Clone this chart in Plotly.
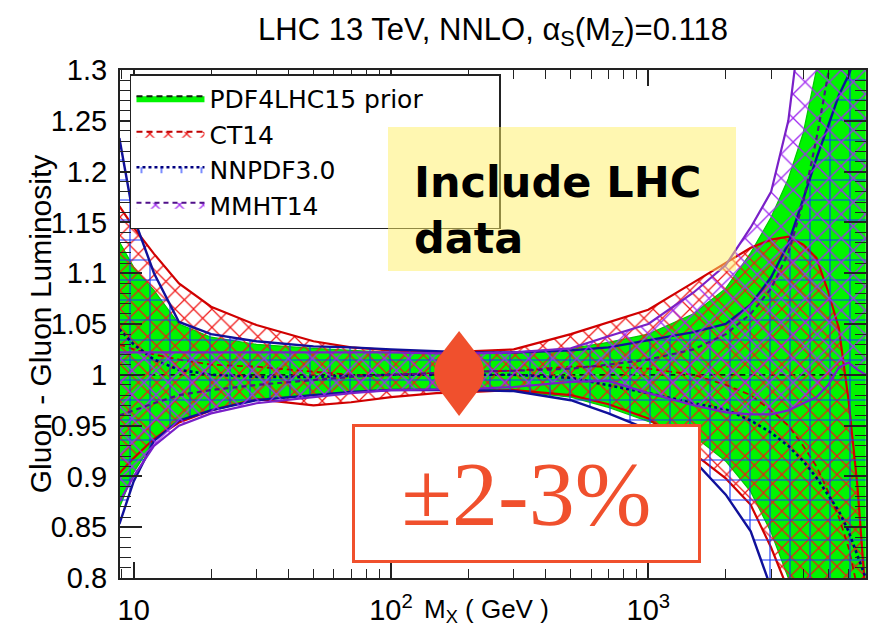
import plotly.graph_objects as go

# ---------------- data ----------------
mass_gev = [8.8, 10, 12, 15, 20, 30, 50, 70, 100, 150, 200, 300, 500, 700,
            1000, 1500, 2000, 2500, 3000, 3500, 4000, 4500, 5000, 5500, 6000, 6500, 7000]

pdf4lhc_up = [1.131, 1.106, 1.083, 1.050, 1.037, 1.030, 1.026, 1.024, 1.022, 1.021, 1.021, 1.022, 1.026, 1.032,
              1.040, 1.060, 1.085, 1.120, 1.155, 1.193, 1.238, 1.300, 1.360, 1.420, 1.480, 1.540, 1.600]
pdf4lhc_cv = [1.000, 1.000, 1.000, 1.000, 1.000, 1.000, 1.000, 1.000, 1.000, 1.000, 1.000, 1.000, 1.000, 1.000,
              1.000, 1.000, 1.000, 1.000, 1.000, 1.000, 1.000, 1.000, 1.000, 1.000, 1.000, 1.000, 1.000]
pdf4lhc_lo = [0.869, 0.904, 0.935, 0.955, 0.966, 0.976, 0.981, 0.983, 0.985, 0.985, 0.985, 0.984, 0.978, 0.968,
              0.954, 0.940, 0.915, 0.885, 0.845, 0.800, 0.750, 0.700, 0.650, 0.600, 0.550, 0.500, 0.450]

ct14_up = [1.166, 1.145, 1.119, 1.090, 1.067, 1.049, 1.033, 1.027, 1.024, 1.022, 1.023, 1.025, 1.040, 1.052,
           1.064, 1.091, 1.110, 1.125, 1.133, 1.136, 1.128, 1.115, 1.082, 1.046, 0.975, 0.890, 0.780]
ct14_cv = [1.030, 1.025, 1.020, 1.015, 1.010, 1.008, 1.003, 1.000, 1.000, 1.002, 1.003, 1.004, 1.008, 1.008,
           1.006, 1.000, 0.990, 0.980, 0.965, 0.950, 0.930, 0.910, 0.885, 0.860, 0.830, 0.790, 0.740]
ct14_lo = [0.903, 0.918, 0.937, 0.953, 0.965, 0.976, 0.970, 0.973, 0.978, 0.982, 0.983, 0.985, 0.980, 0.971,
           0.957, 0.922, 0.898, 0.872, 0.830, 0.788, 0.740, 0.690, 0.640, 0.600, 0.550, 0.500, 0.450]

nnpdf_up = [1.233, 1.155, 1.100, 1.052, 1.040, 1.033, 1.028, 1.027, 1.025, 1.023, 1.022, 1.022, 1.024, 1.027,
            1.034, 1.042, 1.050, 1.069, 1.096, 1.129, 1.173, 1.213, 1.245, 1.275, 1.295, 1.320, 1.340]
nnpdf_cv = [1.045, 1.030, 1.015, 1.005, 1.000, 0.998, 0.998, 0.999, 1.000, 1.000, 1.000, 1.000, 0.997, 0.990,
            0.982, 0.972, 0.966, 0.955, 0.943, 0.930, 0.915, 0.899, 0.882, 0.866, 0.846, 0.822, 0.800]
nnpdf_lo = [0.853, 0.895, 0.935, 0.955, 0.965, 0.975, 0.980, 0.983, 0.985, 0.985, 0.985, 0.984, 0.975, 0.962,
            0.946, 0.916, 0.882, 0.846, 0.790, 0.730, 0.670, 0.610, 0.550, 0.500, 0.450, 0.400, 0.350]

mmht_up = [1.022, 1.022, 1.022, 1.022, 1.022, 1.022, 1.022, 1.022, 1.022, 1.021, 1.021, 1.022, 1.026, 1.038,
           1.050, 1.081, 1.108, 1.145, 1.180, 1.250, 1.360, 1.450, 1.550, 1.650, 1.750, 1.850, 1.950]
mmht_cv = [0.960, 0.965, 0.972, 0.980, 0.985, 0.990, 0.995, 0.998, 1.000, 1.002, 1.003, 1.004, 1.006, 1.010,
           1.015, 1.025, 1.040, 1.060, 1.085, 1.120, 1.170, 1.232, 1.295, 1.350, 1.400, 1.450, 1.500]
mmht_lo = [0.875, 0.900, 0.930, 0.950, 0.962, 0.972, 0.978, 0.982, 0.985, 0.986, 0.986, 0.988, 0.993, 0.994,
           0.982, 0.970, 0.963, 0.961, 0.961, 0.965, 0.972, 0.978, 0.990, 1.007, 1.012, 1.005, 1.000]

band_names = ["PDF4LHC15 prior", "CT14", "NNPDF3.0", "MMHT14"]

x_tick_vals = [10, 100, 1000]
x_tick_text = ["10", "10<sup>2</sup>", "10<sup>3</sup>"]
x_minor_vals = [9, 20, 30, 40, 50, 60, 70, 80, 90, 200, 300, 400, 500, 600, 700, 800, 900,
                2000, 3000, 4000, 5000, 6000, 7000]
y_tick_vals = [0.8, 0.85, 0.9, 0.95, 1.0, 1.05, 1.1, 1.15, 1.2, 1.25, 1.3]
y_tick_text = ["0.8", "0.85", "0.9", "0.95", "1", "1.05", "1.1", "1.15", "1.2", "1.25", "1.3"]

title_text = "LHC 13 TeV, NNLO, α<sub>S</sub>(M<sub>Z</sub>)=0.118"
y_title = "Gluon - Gluon Luminosity"
x_title = "M<sub>X</sub> ( GeV )"
note_text = "Include LHC<br>data"
range_text = "±2-3%"

# ---------------- layout helpers ----------------
W, H = 875, 637
ML, MR, MT, MB = 120, 7, 70, 59
PW = W - ML - MR
PH = H - MT - MB


def fx(p):
    return (p - ML) / PW


def fy(p):
    return (H - MB - p) / PH


SANS = "Liberation Sans, Arial, Helvetica, sans-serif"
ACCENT = "#F0502D"
LEGEND_PAD = "\u00a0" * 9   # widens the legend frame to the reference width

fig = go.Figure()


def add_band(up, cv, lo, name, edge_color, edge_width, cv_color, cv_dash, cv_width,
             pattern=None, fillcolor=None):
    fill_kw = dict(fill="tonexty")
    if pattern is not None:
        fill_kw["fillpattern"] = dict(fillmode="replace", fgopacity=1, **pattern)
        fill_kw["fillcolor"] = "rgba(255,255,255,0)"
    else:
        fill_kw["fillcolor"] = fillcolor
    fig.add_trace(go.Scatter(x=mass_gev, y=up, mode="lines",
                             line=dict(color=edge_color, width=edge_width),
                             showlegend=False, hoverinfo="skip"))
    fig.add_trace(go.Scatter(x=mass_gev, y=cv, mode="lines", name=name,
                             line=dict(color=cv_color, width=cv_width, dash=cv_dash),
                             hoverinfo="skip", **fill_kw))
    fig.add_trace(go.Scatter(x=mass_gev, y=lo, mode="lines",
                             line=dict(color=edge_color, width=edge_width),
                             showlegend=False, hoverinfo="skip", **fill_kw))


add_band(pdf4lhc_up, pdf4lhc_cv, pdf4lhc_lo, band_names[0] + LEGEND_PAD, "#00C800", 1.2,
         "#102010", "6px,4px", 1.8, fillcolor="#00F500")
add_band(ct14_up, ct14_cv, ct14_lo, band_names[1], "#D00000", 2.2,
         "#C00000", "6px,4px", 1.8,
         pattern=dict(shape="x", fgcolor="#F01818", size=13, solidity=0.18))
add_band(nnpdf_up, nnpdf_cv, nnpdf_lo, band_names[2], "#10109A", 2.4,
         "#000080", "3px,3px", 2.6,
         pattern=dict(shape="+", fgcolor="#1535FF", size=20, solidity=0.11))
add_band(mmht_up, mmht_cv, mmht_lo, band_names[3], "#7A20C8", 2.2,
         "#50108A", "5px,4px", 2.2,
         pattern=dict(shape="x", fgcolor="#A02AF0", size=17, solidity=0.15))

axis_common = dict(showline=True, linecolor="#222222", linewidth=2, mirror="ticks",
                   ticks="inside", tickcolor="#222222", tickwidth=1.5,
                   showgrid=False, zeroline=False,
                   tickfont=dict(family=SANS, size=29, color="black"))

fig.update_xaxes(type="log", range=[0.947, 3.846], tickmode="array",
                 tickvals=x_tick_vals, ticktext=x_tick_text, ticklen=16,
                 ticklabelstandoff=5,
                 minor=dict(tickmode="array", tickvals=x_minor_vals, ticklen=9,
                            ticks="inside", tickcolor="#222222", tickwidth=1.2, showgrid=False),
                 **axis_common)
fig.update_yaxes(range=[0.8, 1.3], tickmode="array", tickvals=y_tick_vals,
                 ticktext=y_tick_text, ticklen=22, ticklabelstandoff=5,
                 minor=dict(dtick=0.01, ticklen=11, ticks="inside",
                            tickcolor="#222222", tickwidth=1.2, showgrid=False),
                 **axis_common)

diamond = [(460, 331), (481, 358), (489, 373), (481, 388), (460, 416), (439, 388), (431, 373), (439, 358)]
pts = [(fx(a), fy(b)) for a, b in diamond]
path = ("M {0[0]},{0[1]} L {1[0]},{1[1]} Q {2[0]},{2[1]} {3[0]},{3[1]} L {4[0]},{4[1]} "
        "L {5[0]},{5[1]} Q {6[0]},{6[1]} {7[0]},{7[1]} Z").format(*pts)

fig.update_layout(
    width=W, height=H,
    margin=dict(l=ML, r=MR, t=MT, b=MB),
    paper_bgcolor="white", plot_bgcolor="white",
    title=dict(text=title_text, x=0.5, xref="paper", xanchor="center",
               y=1 - 29 / H, yref="container", yanchor="middle",
               font=dict(family=SANS, size=31, color="black")),
    legend=dict(x=fx(130), y=fy(74), xanchor="left", yanchor="top",
                traceorder="normal",
                bgcolor="white", bordercolor="#222222", borderwidth=1.5,
                font=dict(family="DejaVu Sans", size=25, color="black"),
                itemwidth=68, tracegroupgap=0),
    shapes=[dict(type="path", xref="paper", yref="paper", path=path,
                 fillcolor=ACCENT, line=dict(width=0), layer="above")],
    annotations=[
        dict(text=y_title, xref="paper", yref="paper", x=fx(40), y=0.5,
             textangle=-90, showarrow=False, xanchor="center", yanchor="middle",
             font=dict(family=SANS, size=30, color="black")),
        dict(text=x_title, xref="paper", yref="paper", x=fx(487), y=fy(610),
             showarrow=False, xanchor="center", yanchor="middle",
             font=dict(family=SANS, size=26, color="black")),
        dict(text=" ", xref="paper", yref="paper", x=fx(389), y=fy(127),
             xanchor="left", yanchor="top", showarrow=False, width=348, height=144,
             bgcolor="rgba(255,240,100,0.5)", borderpad=0, borderwidth=0),
        dict(text=note_text, xref="paper", yref="paper", x=fx(413), y=fy(210),
             xanchor="left", yanchor="middle", align="left", showarrow=False,
             font=dict(family="DejaVu Sans", size=43, color="black", weight="bold")),
        dict(text=range_text, xref="paper", yref="paper", x=fx(527.5), y=fy(493.5),
             xanchor="center", yanchor="middle", showarrow=False, width=343, height=133,
             bgcolor="white", bordercolor=ACCENT, borderwidth=3, borderpad=0,
             font=dict(family="Liberation Serif, Times New Roman, serif", size=92, color=ACCENT)),
    ],
)

fig.write_html("out.html")
